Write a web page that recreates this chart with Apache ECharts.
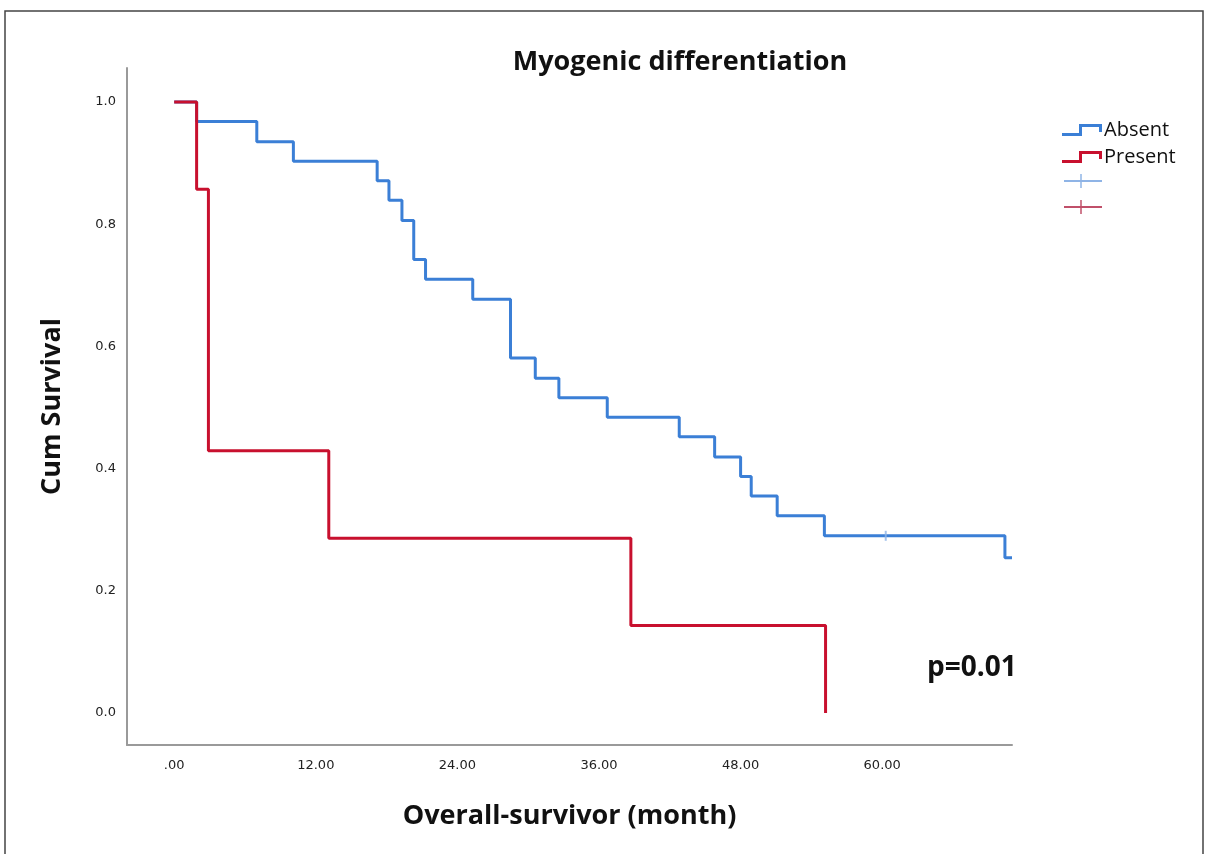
<!DOCTYPE html>
<html>
<head>
<meta charset="utf-8">
<script src="https://cdn.jsdelivr.net/npm/echarts@6/dist/echarts.min.js"></script>
<style>html,body{margin:0;padding:0;background:#fff;}#c{width:1209px;height:854px;}</style>
</head>
<body>
<div id="c"></div>
<script>
// Kaplan-Meier step data (months, cumulative survival)
const absentTimes  = [0, 1.9, 7.0, 10.1, 17.2, 18.2, 19.3, 20.3, 21.3, 25.3, 28.5, 30.6, 32.6, 36.7, 42.8, 45.8, 48.0, 48.9, 51.1, 55.1, 70.4, 71.0];
const absentValues = [1.0, 0.968, 0.935, 0.903, 0.871, 0.839, 0.806, 0.742, 0.710, 0.677, 0.581, 0.548, 0.516, 0.484, 0.452, 0.419, 0.387, 0.355, 0.323, 0.290, 0.254, 0.254];
const presentTimes  = [0, 1.9, 2.9, 13.1, 38.7, 55.2];
const presentValues = [1.0, 0.857, 0.429, 0.286, 0.143, 0.0];
const absentCensorTimes  = [60.3];
const absentCensorValues = [0.290];
const xTicks = [0, 12, 24, 36, 48, 60];
const xTickLabels = ['.00', '12.00', '24.00', '36.00', '48.00', '60.00'];
const yTicks = [0, 0.2, 0.4, 0.6, 0.8, 1.0];
const yTickLabels = ['0.0', '0.2', '0.4', '0.6', '0.8', '1.0'];
const seriesNames = ['Absent', 'Present'];
const blue = '#3b7fd6';
const red = '#c8102e';

const zip = (a, b) => a.map((v, i) => [v, b[i]]);
const stepIcon = 'path://M0,9 L17,9 L17,0 L40,0 L40,8 L37,8 L37,3 L20,3 L20,12 L0,12 Z';

const chart = echarts.init(document.getElementById('c'));
chart.setOption({
  animation: false,
  backgroundColor: '#fff',
  title: {
    text: 'Myogenic differentiation',
    left: 675, top: 44, textAlign: 'center',
    textStyle: { fontFamily: 'Open Sans', fontWeight: 'bold', fontSize: 27, color: '#111' }
  },
  grid: { left: 127, right: 197, top: 68, bottom: 109, containLabel: false },
  legend: {
    data: seriesNames,
    orient: 'vertical',
    left: 1062, top: 120, padding: 0,
    itemWidth: 40, itemHeight: 14, itemGap: 7,
    icon: stepIcon,
    textStyle: { fontFamily: 'Open Sans', fontSize: 20, color: '#111', padding: [0, 0, 0, -3] },
    selectedMode: false
  },
  xAxis: {
    type: 'value', min: -4.0, max: 71.0,
    axisLine: { show: true, onZero: false, lineStyle: { color: '#9a9a9a', width: 2 } },
    axisTick: { show: false },
    splitLine: { show: false },
    axisLabel: {
      customValues: xTicks,
      formatter: v => xTickLabels[xTicks.indexOf(v)] || '',
      fontFamily: 'DejaVu Sans', fontSize: 13, color: '#222', margin: 14
    },
    name: 'Overall-survivor (month)', nameLocation: 'middle', nameGap: 58,
    nameTextStyle: { fontFamily: 'Open Sans', fontWeight: 'bold', fontSize: 27, color: '#111' }
  },
  yAxis: {
    type: 'value', min: -0.0524, max: 1.0556,
    axisLine: { show: true, onZero: false, lineStyle: { color: '#9a9a9a', width: 2 } },
    axisTick: { show: false },
    splitLine: { show: false },
    axisLabel: {
      customValues: yTicks,
      formatter: v => yTickLabels[yTicks.indexOf(Math.round(v * 10) / 10)] || '',
      fontFamily: 'DejaVu Sans', fontSize: 13, color: '#222', margin: 11
    },
    name: 'Cum Survival', nameLocation: 'middle', nameGap: 61, nameRotate: 90,
    nameTextStyle: { fontFamily: 'Open Sans', fontWeight: 'bold', fontSize: 27, color: '#111' }
  },
  series: [
    {
      name: 'Absent', type: 'line', step: 'end', symbol: 'none', z: 2,
      data: zip(absentTimes, absentValues),
      lineStyle: { color: blue, width: 3 }, itemStyle: { color: blue }
    },
    {
      name: 'Present', type: 'line', step: 'end', symbol: 'none', z: 3,
      data: zip(presentTimes, presentValues),
      lineStyle: { color: red, width: 3 }, itemStyle: { color: red }
    },
    {
      name: 'Absent censored', type: 'scatter', z: 4,
      data: zip(absentCensorTimes, absentCensorValues),
      symbol: 'rect', symbolSize: [2, 10],
      itemStyle: { color: '#8fb4e6' }
    }
  ],
  graphic: [
    { type: 'rect', shape: { x: 5, y: 11, width: 1198, height: 850 }, style: { fill: 'none', stroke: '#444', lineWidth: 1.5 }, silent: true },
    // censored legend entries
    { type: 'line', shape: { x1: 1064, y1: 181, x2: 1102, y2: 181 }, style: { stroke: '#8fb4e6', lineWidth: 2 } },
    { type: 'line', shape: { x1: 1081, y1: 174, x2: 1081, y2: 188 }, style: { stroke: '#8fb4e6', lineWidth: 1.5 } },
    { type: 'line', shape: { x1: 1064, y1: 207, x2: 1102, y2: 207 }, style: { stroke: '#c0506a', lineWidth: 2 } },
    { type: 'line', shape: { x1: 1081, y1: 200, x2: 1081, y2: 214 }, style: { stroke: '#c0506a', lineWidth: 1.5 } },
    { type: 'text', left: 927, top: 654, style: { text: 'p=0.01', font: 'bold 28px "Open Sans"', fill: '#111' } }
  ]
});
</script>
</body>
</html>
